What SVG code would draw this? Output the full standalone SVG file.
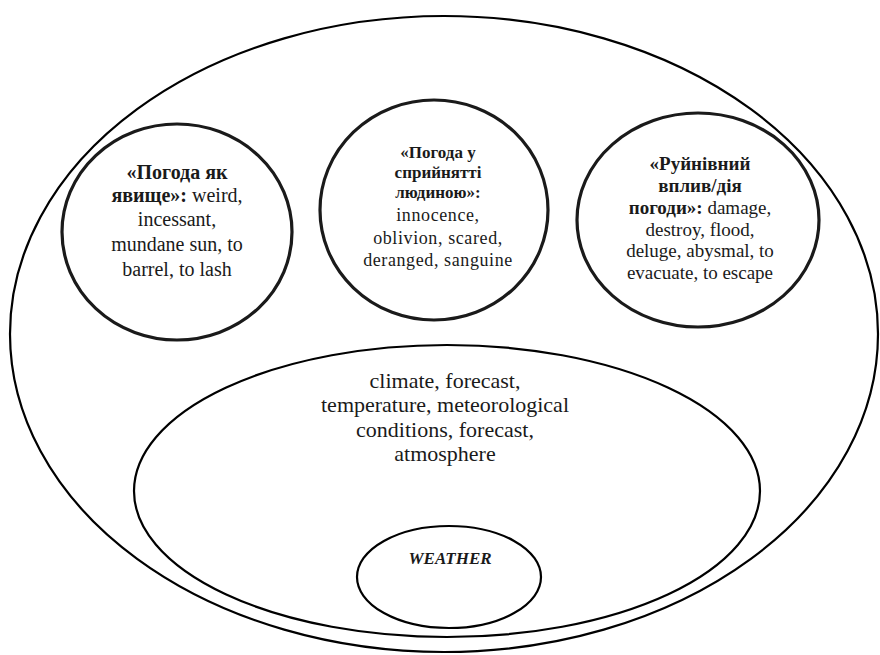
<svg xmlns="http://www.w3.org/2000/svg" width="880" height="655" viewBox="0 0 880 655">
<style>
  .ring { fill: none; stroke: #000; }
  .thick { stroke-width: 3.2; stroke: #1a1a1a; }
  .thin { stroke-width: 2.2; }
</style>
<rect width="880" height="655" fill="#fff"/>
<g id="outer">
  <ellipse class="ring thin" cx="444" cy="334" rx="434" ry="318"/>
</g>
<g id="node-phenomenon" font-family="Liberation Serif" font-size="20" fill="#1a1a1a" text-anchor="middle">
  <ellipse class="ring thick" cx="177" cy="232" rx="115" ry="108"/>
  <text x="177" y="179" font-weight="bold">«Погода як</text>
  <text x="177" y="202"><tspan font-weight="bold">явище»:</tspan> weird,</text>
  <text x="177" y="226">incessant,</text>
  <text x="177" y="251">mundane sun, to</text>
  <text x="177" y="276">barrel, to lash</text>
</g>
<g id="node-perception" font-family="Liberation Serif" fill="#1a1a1a" text-anchor="middle">
  <ellipse class="ring thick" cx="434" cy="210" rx="114" ry="110"/>
  <text x="438" y="158" font-size="17" font-weight="bold">«Погода  у</text>
  <text x="438" y="178" font-size="17" font-weight="bold">сприйнятті</text>
  <text x="438" y="198" font-size="17" font-weight="bold">людиною»:</text>
  <text x="438" y="221" font-size="18" letter-spacing="0.6">innocence,</text>
  <text x="438" y="244" font-size="18" letter-spacing="0.6">oblivion, scared,</text>
  <text x="438" y="266" font-size="18" letter-spacing="0.6">deranged,  sanguine</text>
</g>
<g id="node-destructive" font-family="Liberation Serif" font-size="19" fill="#1a1a1a" text-anchor="middle">
  <ellipse class="ring thick" cx="698" cy="220" rx="121" ry="107"/>
  <text x="700" y="170" font-weight="bold">«Руйнівний</text>
  <text x="700" y="192" font-weight="bold">вплив/дія</text>
  <text x="700" y="214"><tspan font-weight="bold">погоди»:</tspan> damage,</text>
  <text x="700" y="236">destroy, flood,</text>
  <text x="700" y="257">deluge, abysmal, to</text>
  <text x="700" y="279">evacuate, to escape</text>
</g>
<g id="node-core-terms" font-family="Liberation Serif" font-size="22" fill="#1a1a1a" text-anchor="middle">
  <ellipse class="ring thin" cx="447" cy="491" rx="313" ry="146"/>
  <text x="445" y="388">climate, forecast,</text>
  <text x="445" y="412">temperature, meteorological</text>
  <text x="445" y="437">conditions, forecast,</text>
  <text x="445" y="461">atmosphere</text>
</g>
<g id="node-weather" font-family="Liberation Serif" fill="#1a1a1a" text-anchor="middle">
  <ellipse class="ring thin" cx="449" cy="577" rx="92" ry="51"/>
  <text x="450" y="564" font-size="17" font-weight="bold" font-style="italic">WEATHER</text>
</g>
</svg>
